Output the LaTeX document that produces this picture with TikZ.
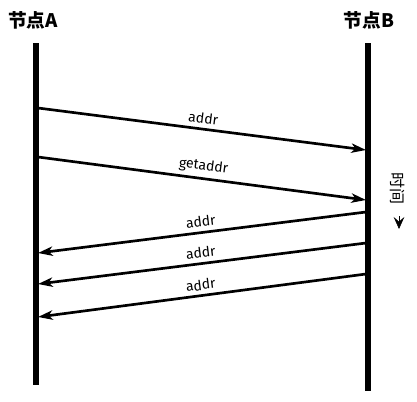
\documentclass[tikz,border=0pt]{standalone}
\usepackage{fontspec}
\setmainfont{Fira Sans}
\newfontfamily\cjk{Noto Sans CJK SC}
\usepackage{tikz}
\usetikzlibrary{arrows.meta, positioning}

\begin{document}
\begin{tikzpicture}[
      x=0.75pt, y=-0.75pt,
      lifeline/.style={line width=3.8pt},
      msg/.style={line width=2pt, -{Stealth[length=11pt, width=7pt, inset=3pt]}},
      head/.style={font=\cjk\bfseries\fontsize{14}{14}\selectfont, inner sep=0pt},
      msglabel/.style={font=\fontsize{10.5}{10.5}\selectfont, inner sep=3pt, above, sloped}
    ]
      \useasboundingbox (0,0) rectangle (417,401);

      \node[head] (nodeA) at (33,20) {节点A};
      \node[head] (nodeB) at (369,20) {节点B};

      \coordinate (topA) at (36,43);
      \coordinate (botA) at (36,385);
      \coordinate (topB) at (368,43);
      \coordinate (botB) at (368,391);
      \draw[lifeline] (topA) -- (botA);
      \draw[lifeline] (topB) -- (botB);

      % A -> B
      \coordinate (a1) at (38,108);  \coordinate (b1) at (366,150);
      \coordinate (a2) at (38,157);  \coordinate (b2) at (366,200);
      \draw[msg] (a1) -- node[msglabel] {addr} (b1);
      \draw[msg] (a2) -- node[msglabel] {getaddr} (b2);

      % B -> A
      \coordinate (b3) at (366,212);  \coordinate (a3) at (38,253);
      \coordinate (b4) at (366,243);  \coordinate (a4) at (38,284);
      \coordinate (b5) at (366,274);  \coordinate (a5) at (38,317);
      \draw[msg] (b3) -- node[msglabel] {addr} (a3);
      \draw[msg] (b4) -- node[msglabel] {addr} (a4);
      \draw[msg] (b5) -- node[msglabel] {addr} (a5);

      % time
      \node[font=\cjk\fontsize{12}{12}\selectfont, rotate=-90, inner sep=0pt] (time) at (398,188) {时间};
      \coordinate (t1) at (399,216);
      \coordinate (t2) at (399,229);
      \draw[-{Stealth[length=9pt, width=8pt, inset=3.5pt]}, line width=0.4pt] (t1) -- (t2);
    \end{tikzpicture}
\end{document}
